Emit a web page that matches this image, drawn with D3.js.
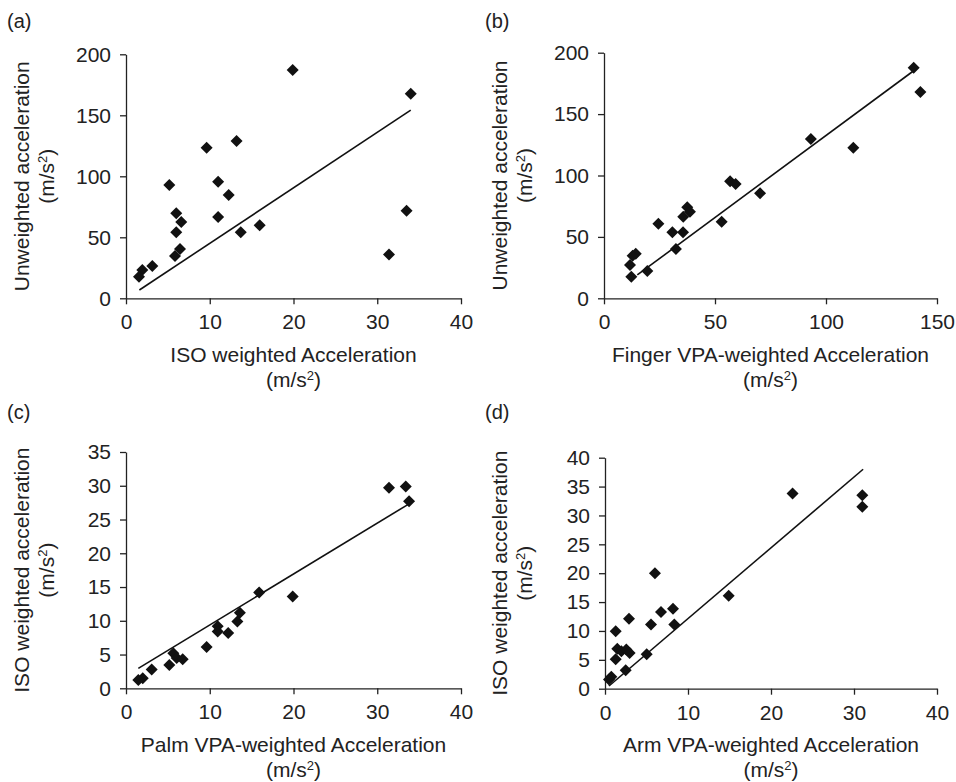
<!DOCTYPE html>
<html><head><meta charset="utf-8">
<script src="https://cdn.jsdelivr.net/npm/d3@7"></script>
<style>body{margin:0;background:#fff}svg{display:block}text{font-family:"Liberation Sans",Arial,sans-serif;fill:#222}</style>
</head><body><svg id="c" width="956" height="782"></svg>
<script>
// Panel (a): ISO weighted (x) vs Unweighted (y)
const aX = [19.9,13.2,9.63,11.0,12.26,5.17,11.0,6.0,6.6,6.0,13.7,15.96,6.45,5.85,3.14,1.95,1.55,34.0,33.5,31.4];
const aY = [187.1,128.9,123.5,95.6,84.7,92.9,66.6,69.7,62.5,54.1,54.1,59.8,40.4,34.7,26.5,23.2,17.7,167.7,71.8,36];
const aFitX = [1.6,34.0], aFitY = [6.8,154.3];
// Panel (b): Finger VPA (x) vs Unweighted (y)
const bX = [93.2,112.3,56.8,59.3,70.3,53.0,37.5,38.7,35.7,24.5,30.8,35.6,32.4,14.3,12.9,11.7,19.5,12.3,139.5,142.5];
const bY = [129.7,122.6,95.3,93.1,85.5,62.4,74.1,70.5,66.4,60.7,53.7,53.7,40.1,36.3,34.7,27.1,22.2,17.6,187.8,168];
const bFitX = [15.0,139.5], bFitY = [19.0,185.3];
// Panel (c): Palm VPA (x) vs ISO (y)
const cX = [31.4,33.4,33.8,15.9,19.9,13.6,13.3,10.95,10.95,12.2,9.63,5.65,6.05,6.77,5.17,3.07,2.0,1.47];
const cY = [29.7,29.9,27.7,14.2,13.6,11.2,9.9,9.2,8.4,8.2,6.1,5.2,4.5,4.3,3.45,2.8,1.5,1.23];
const cFitX = [1.47,33.7], cFitY = [2.96,27.25];
// Panel (d): Arm VPA (x) vs ISO (y)
const dX = [22.6,31.0,31.0,6.02,14.9,8.19,6.75,2.89,5.54,8.35,1.29,1.48,1.97,2.57,2.97,1.29,5.02,2.49,0.76,0.48];
const dY = [33.8,33.5,31.5,20.0,16.1,13.85,13.3,12.1,11.1,11.1,9.95,6.93,6.5,6.8,6.2,5.08,5.95,3.2,2.08,1.6];
const dFitX = [0.48,31.1], dFitY = [0.47,38.0];

const xTicksA = [0,10,20,30,40], yTicksA = [0,50,100,150,200];
const xTicksB = [0,50,100,150], yTicksB = [0,50,100,150,200];
const xTicksC = [0,10,20,30,40], yTicksC = [0,5,10,15,20,25,30,35];
const xTicksD = [0,10,20,30,40], yTicksD = [0,5,10,15,20,25,30,35,40];

const panelLabels = ["(a)","(b)","(c)","(d)"];
const xTitles = ["ISO weighted Acceleration","Finger VPA-weighted Acceleration","Palm VPA-weighted Acceleration","Arm VPA-weighted Acceleration"];
const yTitles = ["Unweighted acceleration","Unweighted acceleration","ISO weighted acceleration","ISO weighted acceleration"];

const panels = [
  {xs:aX, ys:aY, fx:aFitX, fy:aFitY, xd:[0,40], yd:[0,200], xt:xTicksA, yt:yTicksA, xr:[126,461], yr:[298.3,54.3], ox:0, oy:0},
  {xs:bX, ys:bY, fx:bFitX, fy:bFitY, xd:[0,150], yd:[0,200], xt:xTicksB, yt:yTicksB, xr:[604,937], yr:[298.3,52.7], ox:478, oy:0},
  {xs:cX, ys:cY, fx:cFitX, fy:cFitY, xd:[0,40], yd:[0,35], xt:xTicksC, yt:yTicksC, xr:[126,461], yr:[688.3,452], ox:0, oy:391},
  {xs:dX, ys:dY, fx:dFitX, fy:dFitY, xd:[0,40], yd:[0,40], xt:xTicksD, yt:yTicksD, xr:[605,937], yr:[688.7,457.7], ox:478, oy:391}
];

const svg = d3.select("#c");
const ink = "#222";
const FS = 21;

panels.forEach((p,i)=>{
  const x = d3.scaleLinear().domain(p.xd).range(p.xr);
  const y = d3.scaleLinear().domain(p.yd).range(p.yr);
  const g = svg.append("g");

  const xa = g.append("g").attr("transform",`translate(0,${p.yr[0]})`)
    .call(d3.axisBottom(x).tickValues(p.xt).tickFormat(d3.format("d")).tickSize(6).tickSizeOuter(0).tickPadding(10));
  const ya = g.append("g").attr("transform",`translate(${p.xr[0]},0)`)
    .call(d3.axisLeft(y).tickValues(p.yt).tickFormat(d3.format("d")).tickSize(6).tickSizeOuter(0).tickPadding(9));
  [xa,ya].forEach(a=>{
    a.selectAll("path,line").attr("stroke",ink).attr("stroke-width",1.3);
    a.selectAll("text").attr("font-size",FS).attr("fill",ink).style("font-family","'Liberation Sans',Arial,sans-serif");
  });

  // regression line
  const lineData = p.fx.map((v,k)=>[v,p.fy[k]]);
  g.append("path").datum(lineData)
    .attr("d", d3.line().x(d=>x(d[0])).y(d=>y(d[1])))
    .attr("fill","none").attr("stroke","#111").attr("stroke-width",1.6);

  // diamond markers
  const r = 6;
  g.selectAll(".pt").data(p.xs.map((v,k)=>[v,p.ys[k]])).join("path")
    .attr("class","pt")
    .attr("transform",d=>`translate(${x(d[0])},${y(d[1])})`)
    .attr("d",`M0,${-r}L${r},0L0,${r}L${-r},0Z`)
    .attr("fill","#111");

  // panel label
  g.append("text").attr("x",p.ox+7).attr("y",p.oy+28).attr("font-size",20).text(panelLabels[i]);

  // x title
  const xc = (p.xr[0]+p.xr[1])/2;
  g.append("text").attr("x",xc).attr("y",p.yr[0]+63.5).attr("text-anchor","middle").attr("font-size",FS).text(xTitles[i]);
  const u = g.append("text").attr("x",xc).attr("y",p.yr[0]+88.5).attr("text-anchor","middle").attr("font-size",FS);
  u.append("tspan").text("(m/s");
  u.append("tspan").attr("dy",-7).attr("font-size",13).text("2");
  u.append("tspan").attr("dy",7).text(")");

  // y title (rotated)
  const yc = (p.yr[0]+p.yr[1])/2;
  g.append("text").attr("transform",`translate(${p.ox+29},${yc}) rotate(-90)`).attr("text-anchor","middle").attr("font-size",FS).text(yTitles[i]);
  const t2 = g.append("text").attr("transform",`translate(${p.ox+54},${yc}) rotate(-90)`).attr("text-anchor","middle").attr("font-size",FS);
  t2.append("tspan").text("(m/s");
  t2.append("tspan").attr("dy",-7).attr("font-size",13).text("2");
  t2.append("tspan").attr("dy",7).text(")");
});
</script></body></html>
